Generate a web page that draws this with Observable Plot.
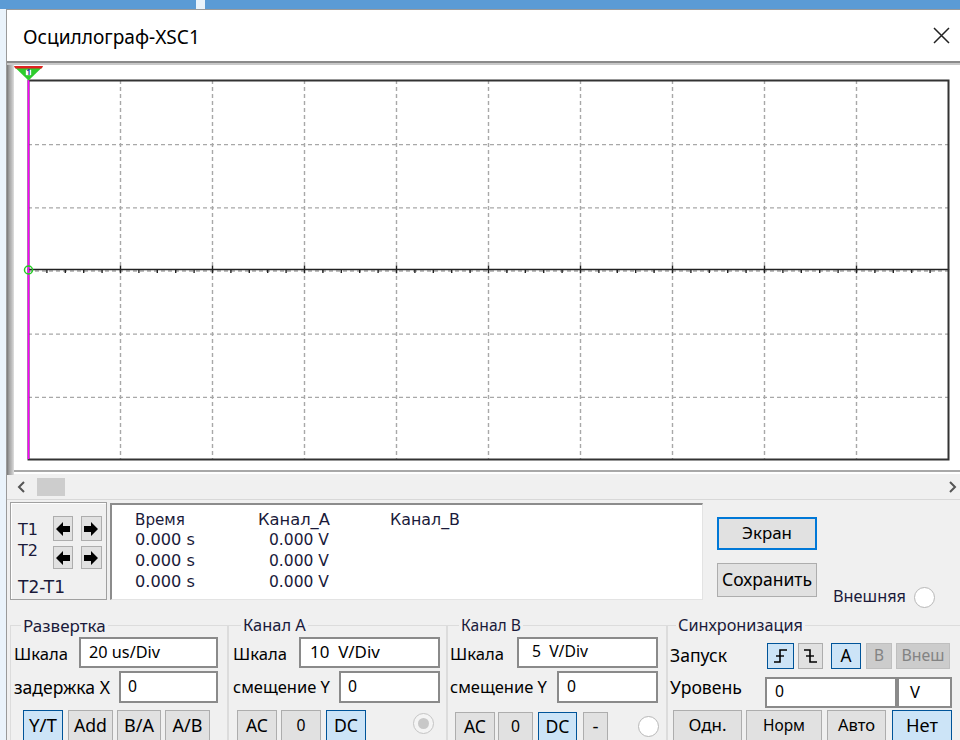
<!DOCTYPE html>
<html><head><meta charset="utf-8">
<script src="https://cdn.jsdelivr.net/npm/d3@7"></script>
<script src="https://cdn.jsdelivr.net/npm/@observablehq/plot@0.6"></script>
<style>
html,body{margin:0;padding:0;}
body{width:960px;height:740px;overflow:hidden;background:#f0f0f0;font-family:"Noto Sans","Open Sans",sans-serif;color:#000;}
#win{position:relative;width:960px;height:740px;overflow:hidden;}
#win div{box-sizing:border-box;}
</style></head>
<body><div id="win"></div>
<script>
// ---- chart data ----
const timeUs = [0, 200];            // sweep time, µs (20 us/Div × 10 div)
const chanA = [0, 0];               // Channel A trace, V (flat at 0.000 V)
const xGrid = [20, 40, 60, 80, 100, 120, 140, 160, 180];  // division lines, µs
const yGrid = [-20, -10, 0, 10, 20];                      // division lines, V (10 V/Div)
const cursorT1 = [0];               // cursor T1/T2 position, µs
const readHeads = ["Время", "Канал_A", "Канал_B"];
const readTimes = ["0.000 s", "0.000 s", "0.000 s"];
const readA = ["0.000 V", "0.000 V", "0.000 V"];

const W = document.getElementById("win");
const NOTO = { fam: '"Noto Sans","Open Sans",sans-serif', off: 0.531 };
const DJV = { fam: '"DejaVu Sans",Verdana,sans-serif', off: 0.481 };
function box(x, y, w, h, style) {
  const d = document.createElement("div");
  d.style.cssText = `position:absolute;left:${x}px;top:${y}px;width:${w}px;height:${h}px;` + (style || "");
  W.appendChild(d); return d;
}
function T(s, x, cy, w, opt = {}) {
  const d = document.createElement("div");
  d.textContent = s;
  const f = opt.font || NOTO;
  const fs0 = opt.fs || 16;
  d.style.cssText = `position:absolute;left:${x}px;top:0;white-space:pre;font-family:${f.fam};font-size:${fs0}px;line-height:1;color:${opt.color || "#000"};` + (opt.style || "");
  W.appendChild(d);
  let fs = fs0;
  if (w) { const m = d.getBoundingClientRect().width; fs = fs0 * w / m; d.style.fontSize = fs + "px"; }
  d.style.top = (cy - fs * f.off) + "px";
  return d;
}
function svgEl(x, y, w, h, inner) {
  const d = box(x, y, w, h, "");
  d.innerHTML = `<svg width="${w}" height="${h}" style="display:block">${inner}</svg>`;
  return d;
}
const KIND = {
  n: "background:#e1e1e1;border:1px solid #adadad;",
  s: "background:#cce4f7;border:1px solid #005499;",
  d: "background:#cccccc;border:1px solid #bfbfbf;",
  f: "background:#e1e1e1;border:2px solid #0078d7;"
};
function btn(s, x1, x2, y1, y2, kind, tw) {
  box(x1, y1, x2 - x1, y2 - y1, KIND[kind || "n"]);
  if (s) {
    const t = T(s, 0, (y1 + y2) / 2, tw, { color: kind === "d" ? "#838383" : "#000" });
    const m = t.getBoundingClientRect().width;
    t.style.left = ((x1 + x2) / 2 - m / 2) + "px";
  }
}
function input(s, x1, x2, y1, y2, tx, tw) {
  box(x1, y1, x2 - x1, y2 - y1, "background:#fff;border:2px solid #8a8a8a;");
  if (s) T(s, tx, (y1 + y2) / 2, tw);
}
function group(label, x1, x2, lx, lw) {
  box(x1, 625, x2 - x1, 140, "border:1px solid #dcdcdc;");
  T(label, lx, 626, lw, { color: "#1a1a3a", style: "background:#f0f0f0;padding:0 2px;margin-left:-2px;" });
}

// ---- window chrome ----
box(0, 0, 960, 740, "background:#eaf3fb;");
box(0, 0, 196, 9, "background:#5b9bd5;");
box(205, 0, 755, 9, "background:#5b9bd5;");
box(6, 9, 954, 731, "background:#f0f0f0;border-left:1px solid #9a9a9a;border-top:1px solid #9a9a9a;");
box(7, 10, 953, 51, "background:#ffffff;");
T("Осциллограф-XSC1", 23, 38, 177);
svgEl(930, 24, 24, 24, `<path d="M4 4 L19 19 M19 4 L4 19" stroke="#222" stroke-width="1.5"/>`);
box(7, 61, 953, 2, "background:#8a8a8a;");
box(7, 63, 953, 2, "background:#c8c8c8;");
box(7, 65, 7, 410, "background:linear-gradient(to right,#777,#a0a0a0 30%,#c0c0c0 70%,#e0e0e0);");
box(14, 470, 946, 2, "background:#a8a8a8;");
box(14, 472, 946, 2, "background:#ffffff;");

// scrollbar
svgEl(14, 479, 16, 16, `<polyline points="10,3 5,8 10,13" fill="none" stroke="#555" stroke-width="2"/>`);
box(37, 478, 28, 18, "background:#cdcdcd;");
svgEl(944, 479, 16, 16, `<polyline points="6,3 11,8 6,13" fill="none" stroke="#555" stroke-width="2"/>`);
box(7, 499, 953, 1, "background:#d8d8d8;");

// T1/T2 box
box(10, 502, 97, 98, "border:1px solid #a0a0a0;box-shadow:inset 1px 1px 0 #fff;");
T("T1", 18, 530, 20, { font: DJV, color: "#1a1a3a" });
T("T2", 18, 551, 20, { font: DJV, color: "#1a1a3a" });
T("T2-T1", 18, 587, 47, { font: DJV, color: "#1a1a3a" });
const LA = `<polygon points="3,12 10,5 10,9 17,9 17,15 10,15 10,19" fill="#000"/>`;
const RA = `<polygon points="17,12 10,5 10,9 3,9 3,15 10,15 10,19" fill="#000"/>`;
[[516, 541], [546, 569]].forEach(([a, b]) => {
  box(53, a, 20, b - a, KIND.n); svgEl(53, a + (b - a - 24) / 2, 20, 24, LA);
  box(81, a, 21, b - a, KIND.n); svgEl(81, a + (b - a - 24) / 2, 20, 24, RA);
});

// readout box
box(110, 503, 593, 97, "background:#fff;border-top:2px solid #8c8c8c;border-left:2px solid #8c8c8c;border-right:1px solid #e3e3e3;border-bottom:1px solid #e3e3e3;");
const RO = { font: DJV, color: "#1a1a3a" };
T(readHeads[0], 135, 520, 50, RO);
T(readHeads[1], 258, 520, 72, RO);
T(readHeads[2], 390, 520, 70, RO);
[540, 561, 582].forEach((cy, i) => {
  T(readTimes[i], 135, cy, 60, RO);
  T(readA[i], 269, cy, 60, RO);
});

// right buttons
btn("Экран", 717, 817, 517, 550, "f", 50);
btn("Сохранить", 717, 817, 563, 597, "n", 90);
T("Внешняя", 833, 597, 73, { color: "#1a1a3a" });
box(914, 587, 21, 21, "background:#fff;border:1px solid #b8b8b8;border-radius:50%;");

// ---- groups ----
group("Развертка", 10, 228, 23, 87);
group("Канал A", 228, 447, 243, 67);
group("Канал B", 447, 667, 461, 64);
group("Синхронизация", 667, 975, 678, 129);

// Развертка
T("Шкала", 14, 655, 54);
input("20 us/Div", 79, 218, 637, 668, 89, 71);
T("задержка X", 14, 688, 96);
input("0", 119, 218, 671, 703, 128, 9);
btn("Y/T", 23, 63, 710, 742, "s", 28);
btn("Add", 68, 113, 710, 742, "n", 33);
btn("B/A", 117, 161, 710, 742, "n", 30);
btn("A/B", 165, 210, 710, 742, "n", 30);

// Канал A
T("Шкала", 233, 655, 54);
input("10  V/Div", 299, 440, 637, 668, 310, 70);
T("смещение Y", 233, 688, 97);
input("0", 339, 440, 671, 703, 348, 9);
btn("AC", 237, 277, 710, 742, "n", 22);
btn("0", 281, 321, 710, 742, "n", 9);
btn("DC", 326, 366, 710, 742, "s", 24);
box(413, 713, 21, 21, "background:#f4f4f4;border:1px solid #c4c4c4;border-radius:50%;");
box(418, 718, 11, 11, "background:#c8c8c8;border-radius:50%;");

// Канал B
T("Шкала", 450, 655, 54);
input("5  V/Div", 517, 658, 637, 668, 532, 56);
T("смещение Y", 450, 688, 97);
input("0", 557, 658, 671, 703, 567, 9);
btn("AC", 455, 495, 712, 742, "n", 22);
btn("0", 498, 533, 712, 742, "n", 9);
btn("DC", 538, 577, 712, 742, "s", 24);
btn("-", 583, 608, 712, 742, "n", 6);
box(638, 716, 21, 21, "background:#fff;border:1px solid #b8b8b8;border-radius:50%;");

// Синхронизация
T("Запуск", 670, 656, 57);
btn("", 767, 794, 643, 669, "s");
svgEl(767, 643, 27, 26, `<polyline points="7,19 13,19 13,7 20,7" fill="none" stroke="#000" stroke-width="1.6"/><line x1="9" y1="13" x2="17" y2="13" stroke="#000" stroke-width="1.4"/>`);
btn("", 798, 823, 643, 669, "n");
svgEl(798, 643, 25, 26, `<polyline points="6,7 12,7 12,19 19,19" fill="none" stroke="#000" stroke-width="1.6"/><line x1="8" y1="13" x2="16" y2="13" stroke="#000" stroke-width="1.4"/>`);
btn("A", 831, 861, 643, 669, "s", 11);
btn("B", 866, 892, 643, 669, "d", 10);
btn("Внеш", 896, 950, 643, 669, "d", 43);
T("Уровень", 670, 688, 72);
input("0", 765, 897, 677, 708, 775, 9);
input("V", 897, 952, 677, 708, 910, 10);
btn("Одн.", 673, 742, 710, 742, "n", 38);
btn("Норм", 746, 822, 710, 742, "n", 42);
btn("Авто", 827, 886, 710, 742, "n", 37);
btn("Нет", 892, 952, 710, 742, "s", 32);

// ---- oscilloscope screen (Observable Plot) ----
const trace = timeUs.map((t, i) => ({ t, v: chanA[i] }));
const tickStep = 4; // 0.2 div sub-ticks on centre axis
const minorTicks = d3.range(0, 201, tickStep).filter(t => t % 20 !== 0);
const markerTop = {
  draw(ctx) {
    ctx.moveTo(-14.5, -14); ctx.lineTo(14.5, -14); ctx.lineTo(0, 0); ctx.closePath();
  }
};
const markerBand = {
  draw(ctx) {
    ctx.moveTo(-14.5, -14.5); ctx.lineTo(14.5, -14.5); ctx.lineTo(13.2, -12); ctx.lineTo(-13.2, -12); ctx.closePath();
  }
};
const plot = Plot.plot({
  width: 946, height: 405,
  marginLeft: 14, marginRight: 12, marginTop: 15, marginBottom: 11,
  x: { domain: [0, 200], axis: null },
  y: { domain: [-30, 30], axis: null },
  style: { background: "#ffffff", overflow: "visible" },
  marks: [
    Plot.ruleX(xGrid, { stroke: "#a8a8a8", strokeWidth: 1.4, strokeDasharray: "4,3" }),
    Plot.ruleY(yGrid, { stroke: "#a8a8a8", strokeWidth: 1.4, strokeDasharray: "4,3", dy: 1 }),
    Plot.ruleX(minorTicks, { y1: 0, y2: -0.55, stroke: "#222", strokeWidth: 1.4 }),
    Plot.ruleX(xGrid, { y1: 0.6, y2: -0.6, stroke: "#222", strokeWidth: 1.4 }),
    Plot.line(trace, { x: "t", y: "v", stroke: "#222", strokeWidth: 1.5, dy: -0.5 }),
    Plot.frame({ stroke: "#333", strokeWidth: 2 }),
    Plot.ruleX(cursorT1, { stroke: "#ff00ff", strokeWidth: 1.6 }),
    Plot.dot(trace.slice(0, 1), { x: "t", y: "v", r: 4, stroke: "#22cc22", strokeWidth: 1.5, fill: "none" }),
    Plot.dot(cursorT1, { x: d => d, y: () => 30, symbol: markerTop, fill: "#2ecc2e", stroke: "none" }),
    Plot.dot(cursorT1, { x: d => d, y: () => 30, symbol: markerBand, fill: "#e02020", stroke: "none" }),
    Plot.dot(cursorT1, { x: d => d, y: () => 30, symbol: "square", r: 3, fill: "#ffffff", stroke: "none", dy: -8 }),
    Plot.text(cursorT1, { x: d => d, y: () => 30, text: () => "1", fill: "#1a3fa0", fontSize: 8, fontWeight: "bold", dy: -8 })
  ]
});
const host = box(14, 65, 946, 405, "");
host.appendChild(plot);
</script>
</body></html>
